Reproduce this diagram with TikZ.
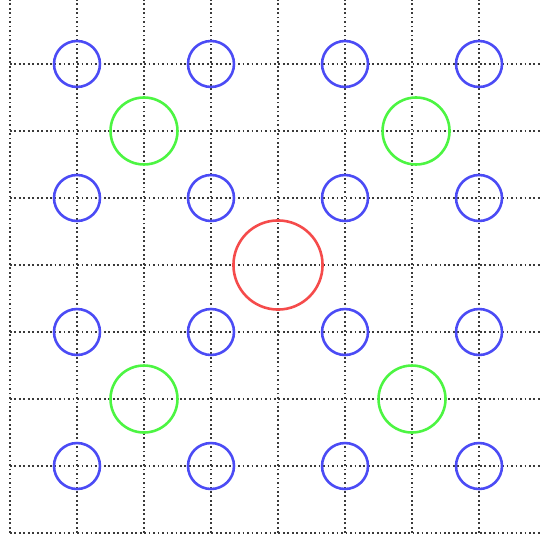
\documentclass[tikz,border=0pt]{standalone}
\usepackage[rgb]{xcolor}
\usepackage{tikz}
\usetikzlibrary{positioning}

\definecolor{ringblue}{HTML}{4B4BF5}
\definecolor{ringgreen}{HTML}{4CF542}
\definecolor{ringred}{HTML}{F54B4B}
\definecolor{gridgray}{HTML}{3A3A3A}

\tikzset{
    gridline/.style={gridgray, line width=0.75pt, dash pattern=on 0.75pt off 1.15pt},
    ring/.style={circle, draw, line width=1.1pt, inner sep=0pt},
    bluering/.style={ring, ringblue, minimum size=0.686cm},
    greenring/.style={ring, ringgreen, minimum size=1.0cm},
    redring/.style={ring, ringred, minimum size=1.33cm}
}

\begin{document}
\begin{tikzpicture}
        \useasboundingbox (-0.149, -0.119) rectangle (7.910, 7.955);

        % Dotted grid
        \draw[gridline] (0, 0) grid (7.910, 7.955);

        % Blue rings
        \node[bluering] (b17) at (1, 7) {};
        \node[bluering] (b37) at (3, 7) {};
        \node[bluering] (b57) at (5, 7) {};
        \node[bluering] (b77) at (7, 7) {};
        \node[bluering] (b15) at (1, 5) {};
        \node[bluering] (b35) at (3, 5) {};
        \node[bluering] (b55) at (5, 5) {};
        \node[bluering] (b75) at (7, 5) {};
        \node[bluering] (b13) at (1, 3) {};
        \node[bluering] (b33) at (3, 3) {};
        \node[bluering] (b53) at (5, 3) {};
        \node[bluering] (b73) at (7, 3) {};
        \node[bluering] (b11) at (1, 1) {};
        \node[bluering] (b31) at (3, 1) {};
        \node[bluering] (b51) at (5, 1) {};
        \node[bluering] (b71) at (7, 1) {};

        % Green rings
        \node[greenring] (g26) at (2, 6) {};
        \node[greenring] (g66) at (6.06, 6) {};
        \node[greenring] (g22) at (2, 2) {};
        \node[greenring] (g62) at (6, 2) {};

        % Red ring
        \node[redring] (r44) at (4, 4) {};
    \end{tikzpicture}
\end{document}
